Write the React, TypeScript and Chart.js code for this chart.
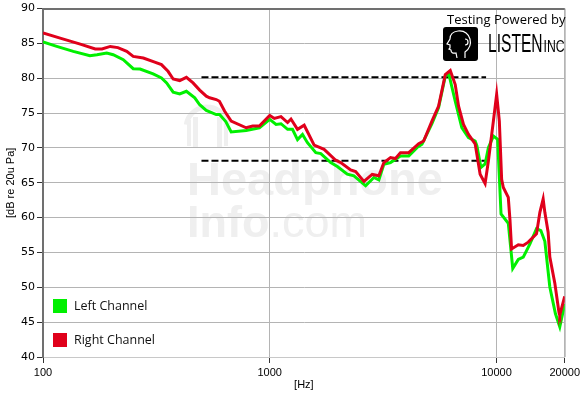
import React, { useEffect, useRef } from "react";
import { Chart, registerables } from "chart.js";

Chart.register(...registerables);

// ---- Data ----
const xTickValues = [100, 1000, 10000, 20000];

const leftFreq = [100,115,136,161,173,191,204,226,250,268,306,333,351,375,401,429,467,491,525,581,601,640,676,787,900,1000,1066,1121,1199,1260,1326,1395,1467,1597,1680,1858,1987,2198,2352,2648,2880,3029,3187,3410,3772,4103,4462,4693,5193,5557,5948,6150,6579,7034,7525,8054,8200,8540,8911,9214,9692,10122,10476,11277,11800,12484,13130,14053,15018,15700,16346,17195,18197,19024,20000];
const leftDb = [85.2,84.57,83.86,83.24,83.38,83.62,83.38,82.67,81.38,81.33,80.62,80.05,79.33,78.0,77.76,78.14,77.19,76.2,75.4,74.8,74.8,73.8,72.3,72.5,72.9,74.1,73.38,73.48,72.67,72.67,71.2,71.95,70.76,69.33,69.19,67.9,67.33,66.24,66.0,64.57,65.76,65.43,67.67,67.9,68.86,68.86,70.05,70.52,73.5,75.8,80.29,80.76,76.7,72.9,71.48,71.0,70.3,67.2,67.7,70.05,71.71,71.24,60.52,59.2,52.7,54.0,54.33,56.24,58.4,58.14,56.6,50.05,46.24,44.33,47.6];

const rightFreq = [100,119,146,170,182,198,214,234,250,277,311,333,356,375,401,429,459,491,525,543,581,600,632,676,787,841,900,1000,1048,1121,1199,1241,1326,1419,1570,1737,1955,2056,2275,2393,2603,2831,3029,3187,3410,3587,3772,4103,4539,4775,5193,5557,5948,6256,6579,6806,7154,7525,8054,8472,8911,9214,9692,10020,10297,10540,10723,11277,11475,11660,12484,13130,13812,15018,15542,16069,16346,16901,17195,18089,18889,19024,20000];
const rightDb = [86.5,85.76,84.9,84.2,84.2,84.57,84.4,83.86,83.14,82.9,82.33,81.96,81.0,79.9,79.67,80.14,79.33,78.3,77.43,77.2,76.95,76.7,75.3,73.86,72.9,73.14,73.14,74.67,74.24,74.5,73.65,74.15,72.67,73.26,70.4,69.81,68.24,67.9,66.86,66.62,65.2,66.2,66.0,67.9,68.62,68.48,69.33,69.33,70.62,71.0,73.86,76.0,80.52,81.1,79.1,76.0,73.38,71.95,70.6,66.24,64.9,68.14,73.86,77.7,73.86,65.5,64.33,62.9,59.6,55.5,56.1,56.0,56.48,57.67,60.76,62.67,60.76,57.9,54.33,50.6,46.3,46.0,48.7];

const targetFreq = [500, 9000];
const upperTarget = [80.15, 80.15];
const lowerTarget = [68.15, 68.15];

const seriesNames = ["Left Channel", "Right Channel"];
const seriesColors = ["#00f000", "#e0001b"];

const toPoints = (xs: number[], ys: number[]) => xs.map((x, i) => ({ x, y: ys[i] }));

const decorPlugin = {
  id: "decor",
  beforeDraw(chart: any) {
    const ctx = chart.ctx as CanvasRenderingContext2D;
    ctx.save();
    // watermark
    ctx.fillStyle = "#efefef";
    ctx.strokeStyle = "#efefef";
    ctx.lineWidth = 5;
    ctx.beginPath();
    ctx.arc(207, 128, 21, Math.PI * 1.05, Math.PI * 1.95);
    ctx.stroke();
    ctx.fillRect(187, 120, 4, 26);
    ctx.fillRect(193, 117, 5, 30);
    ctx.fillRect(217, 117, 5, 30);
    ctx.fillRect(224, 120, 4, 26);
    ctx.textBaseline = "alphabetic";
    ctx.textAlign = "left";
    ctx.font = "bold 47px 'Liberation Sans'";
    ctx.fillText("Headphone", 187, 195);
    ctx.font = "bold 45px 'Liberation Sans'";
    ctx.fillText("Info", 187, 237);
    const w = ctx.measureText("Info").width;
    ctx.font = "45px 'Liberation Sans'";
    ctx.fillText(".com", 187 + w, 237);
    ctx.restore();
  },
  afterDraw(chart: any) {
    const ctx = chart.ctx as CanvasRenderingContext2D;
    const { left, right, top, bottom } = chart.chartArea;
    ctx.save();
    // frame
    ctx.strokeStyle = "#c8c8c8";
    ctx.lineWidth = 1;
    ctx.beginPath();
    ctx.moveTo(Math.round(right) + 0.5, top);
    ctx.lineTo(Math.round(right) + 0.5, bottom);
    ctx.stroke();
    ctx.strokeStyle = "#707070";
    ctx.lineWidth = 2;
    ctx.beginPath();
    ctx.moveTo(left, Math.round(top));
    ctx.lineTo(right, Math.round(top));
    ctx.stroke();

    // legend
    ctx.font = "12.5px 'Open Sans'";
    ctx.textBaseline = "middle";
    ctx.textAlign = "left";
    const ly = [306, 340];
    seriesNames.forEach((name, i) => {
      ctx.fillStyle = seriesColors[i];
      ctx.fillRect(left + 10, ly[i] - 7, 14, 14);
      ctx.fillStyle = "#111";
      ctx.fillText(name, left + 31, ly[i]);
    });

    // logo
    ctx.fillStyle = "#000";
    ctx.font = "13px 'Open Sans'";
    ctx.textBaseline = "alphabetic";
    ctx.fillText("Testing Powered by", 447, 24);
    ctx.beginPath();
    (ctx as any).roundRect(443, 27, 35, 34, 3);
    ctx.fill();
    // head profile
    ctx.strokeStyle = "#fff";
    ctx.lineWidth = 1.2;
    const bx = 443, by = 27;
    ctx.beginPath();
    ctx.moveTo(bx + 22, by + 31);
    ctx.lineTo(bx + 22, by + 25);
    ctx.quadraticCurveTo(bx + 29, by + 20, bx + 27, by + 12);
    ctx.quadraticCurveTo(bx + 24, by + 3, bx + 15, by + 4);
    ctx.quadraticCurveTo(bx + 7, by + 5, bx + 7, by + 12);
    ctx.lineTo(bx + 4, by + 17);
    ctx.lineTo(bx + 7, by + 18);
    ctx.lineTo(bx + 7, by + 21);
    ctx.lineTo(bx + 6, by + 22);
    ctx.lineTo(bx + 8, by + 23);
    ctx.quadraticCurveTo(bx + 8, by + 27, bx + 13, by + 26);
    ctx.lineTo(bx + 14, by + 31);
    ctx.stroke();
    ctx.beginPath();
    ctx.arc(bx + 22, by + 15, 3, -Math.PI / 2, Math.PI / 2);
    ctx.stroke();
    // LISTEN text
    ctx.fillStyle = "#000";
    ctx.save();
    ctx.translate(488, 52);
    ctx.scale(0.6, 1);
    ctx.font = "26px 'Liberation Sans'";
    ctx.fillText("LISTEN", 0, 0);
    const lw = ctx.measureText("LISTEN").width;
    ctx.restore();
    ctx.save();
    ctx.translate(488 + lw * 0.6 + 1, 52);
    ctx.scale(0.72, 1);
    ctx.font = "17px 'Liberation Sans'";
    ctx.fillText("INC", 0, 0);
    ctx.restore();
    ctx.restore();
  },
};

export default function App() {
  const canvasRef = useRef<HTMLCanvasElement | null>(null);

  useEffect(() => {
    document.body.style.margin = "0";
    const canvas = canvasRef.current;
    if (!canvas) return;
    const chart = new Chart(canvas, {
      type: "line",
      data: {
        datasets: [
          {
            label: seriesNames[1],
            data: toPoints(rightFreq, rightDb),
            borderColor: seriesColors[1],
            borderWidth: 3,
            pointRadius: 0,
            order: 1,
          },
          {
            label: seriesNames[0],
            data: toPoints(leftFreq, leftDb),
            borderColor: seriesColors[0],
            borderWidth: 3,
            pointRadius: 0,
            order: 2,
          },
          {
            label: "upper",
            data: toPoints(targetFreq, upperTarget),
            borderColor: "#000",
            borderWidth: 2,
            borderDash: [7, 3],
            pointRadius: 0,
            order: 3,
          },
          {
            label: "lower",
            data: toPoints(targetFreq, lowerTarget),
            borderColor: "#000",
            borderWidth: 2,
            borderDash: [7, 3],
            pointRadius: 0,
            order: 3,
          },
        ],
      },
      options: {
        responsive: false,
        animation: false,
        devicePixelRatio: 1,
        layout: { padding: { top: 7, right: 16, left: 0, bottom: 0 } },
        plugins: { legend: { display: false }, tooltip: { enabled: false } },
        elements: { line: { tension: 0 }, point: { radius: 0 } },
        scales: {
          x: {
            type: "logarithmic",
            min: 100,
            max: 20000,
            afterBuildTicks: (s: any) => {
              s.ticks = xTickValues.map((v) => ({ value: v }));
            },
            afterFit: (s: any) => {
              s.height = 38;
            },
            ticks: {
              autoSkip: false,
              maxRotation: 0,
              padding: 3,
              color: "#000",
              font: { family: "'Liberation Sans'", size: 11 },
              callback: (v: any) => String(v),
            },
            grid: { color: "#b4b4b4", tickColor: "#333", tickLength: 6 },
            border: { color: "#c8c8c8", width: 1 },
            title: {
              display: true,
              text: "[Hz]",
              color: "#000",
              font: { family: "'Liberation Sans'", size: 11 },
              padding: { top: 0, bottom: 3 },
            },
          },
          y: {
            min: 40,
            max: 90,
            afterFit: (s: any) => {
              s.width = 43;
            },
            ticks: {
              stepSize: 5,
              padding: 2,
              color: "#000",
              font: { family: "'DejaVu Sans'", size: 11 },
            },
            grid: { color: "#b4b4b4", tickColor: "#333", tickLength: 6 },
            border: { color: "#707070", width: 2 },
            title: {
              display: true,
              text: "[dB re 20u Pa]",
              color: "#000",
              font: { family: "'Liberation Sans'", size: 11 },
              padding: { top: 4, bottom: 0 },
            },
          },
        },
      },
      plugins: [decorPlugin],
    } as any);
    return () => chart.destroy();
  }, []);

  return <canvas ref={canvasRef} width={583} height={395} style={{ display: "block" }} />;
}
